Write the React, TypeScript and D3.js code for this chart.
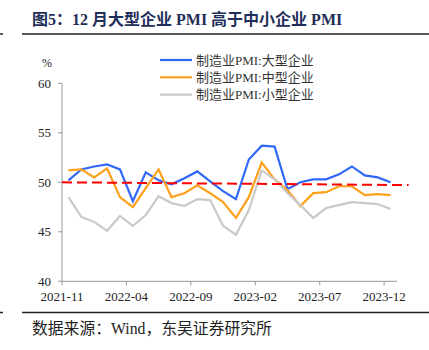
import React from "react";
import * as d3 from "d3";

const months = [
  "2021-11","2021-12","2022-01","2022-02","2022-03","2022-04","2022-05","2022-06","2022-07","2022-08","2022-09","2022-10","2022-11","2022-12",
  "2023-01","2023-02","2023-03","2023-04","2023-05","2023-06","2023-07","2023-08","2023-09","2023-10","2023-11","2023-12",
];
const large = [50.2, 51.3, 51.6, 51.8, 51.3, 48.1, 51.0, 50.2, 49.8, 50.4, 51.1, 50.1, 49.1, 48.3, 52.3, 53.7, 53.6, 49.3, 50.0, 50.3, 50.3, 50.8, 51.6, 50.7, 50.5, 50.0];
const medium = [51.2, 51.3, 50.5, 51.4, 48.5, 47.5, 49.4, 51.3, 48.5, 48.9, 49.7, 48.9, 48.0, 46.4, 48.5, 52.0, 50.3, 49.2, 47.6, 48.9, 49.0, 49.6, 49.6, 48.7, 48.8, 48.7];
const small = [48.5, 46.5, 46.0, 45.1, 46.6, 45.6, 46.7, 48.6, 47.9, 47.6, 48.3, 48.2, 45.6, 44.7, 47.2, 51.2, 50.3, 48.9, 47.7, 46.4, 47.4, 47.7, 48.0, 47.9, 47.8, 47.3];
const trendPos = [0, 26.9];
const trendVals = [50.0, 49.72];
const seriesNames = ["制造业PMI:大型企业", "制造业PMI:中型企业", "制造业PMI:小型企业"];
const seriesColors = ["#3268F8", "#FFA01C", "#C9C9C9"];
const yTicks = [40, 45, 50, 55, 60];
const xTickIdx = [0, 5, 10, 15, 20, 25];
const title = "图5：12 月大型企业 PMI 高于中小企业 PMI";
const source = "数据来源：Wind，东吴证券研究所";

const FONT = "'Liberation Serif', 'Times New Roman', 'Noto Sans CJK SC', serif";

export default function App() {
  const x = d3.scaleLinear().domain([0, months.length]).range([62, 397]);
  const y = d3.scaleLinear().domain([40, 60]).range([281.3, 83.3]);
  const series = [large, medium, small];
  const line = d3
    .line<number>()
    .x((_, i) => x(i + 0.5))
    .y((d) => y(d));
  const trend = d3
    .line<number>()
    .x((_, i) => x(trendPos[i]))
    .y((d) => y(d));

  return (
    <svg
      width={429}
      height={350}
      style={{ position: "absolute", left: 0, top: 0, background: "#fff" }}
      fontFamily={FONT}
    >
      <text x={32} y={25} fontSize={16} fontWeight="bold" fill="#1F2F5A">
        {title}
      </text>
      <line x1={22} x2={429} y1={34} y2={34} stroke="#222" strokeWidth={1.5} />
      <line x1={0} x2={3} y1={34} y2={34} stroke="#222" strokeWidth={1.5} />
      <line x1={22} x2={429} y1={312.5} y2={312.5} stroke="#222" strokeWidth={1.5} />
      <line x1={0} x2={3} y1={312.5} y2={312.5} stroke="#222" strokeWidth={1.5} />
      <text x={32} y={334} fontSize={15.8} fill="#222">
        {source}
      </text>

      {/* y axis */}
      <line x1={x(0)} x2={x(0)} y1={y(60)} y2={y(40)} stroke="#999" />
      {yTicks.map((t) => (
        <g key={t}>
          <line x1={x(0) - 4} x2={x(0)} y1={y(t)} y2={y(t)} stroke="#999" />
          <text x={51} y={y(t)} dy="0.35em" textAnchor="end" fontSize={13} fill="#222">
            {t}
          </text>
        </g>
      ))}
      <text x={47} y={63} dy="0.35em" textAnchor="middle" fontSize={12} fill="#222">
        %
      </text>

      {/* x axis */}
      <line x1={x(0)} x2={x(months.length)} y1={y(40)} y2={y(40)} stroke="#999" />
      {xTickIdx.map((i) => (
        <g key={i}>
          <line x1={x(i)} x2={x(i)} y1={y(40)} y2={y(40) + 4} stroke="#999" />
          <text x={x(i)} y={301} textAnchor="middle" fontSize={13} fill="#222">
            {months[i]}
          </text>
        </g>
      ))}

      {series.map((s, k) => (
        <path key={k} d={line(s) || ""} fill="none" stroke={seriesColors[k]} strokeWidth={2.2} strokeLinejoin="miter" />
      ))}
      <path d={trend(trendVals) || ""} fill="none" stroke="#FF0000" strokeWidth={2} strokeDasharray="10,5" />

      {/* legend */}
      {seriesNames.map((n, k) => (
        <g key={n} transform={`translate(160, ${60 + k * 17.3})`}>
          <line x1={0} x2={32} y1={0} y2={0} stroke={seriesColors[k]} strokeWidth={2.2} />
          <text x={36} y={0} dy="0.35em" fontSize={13} fill="#333">
            {n}
          </text>
        </g>
      ))}
    </svg>
  );
}
